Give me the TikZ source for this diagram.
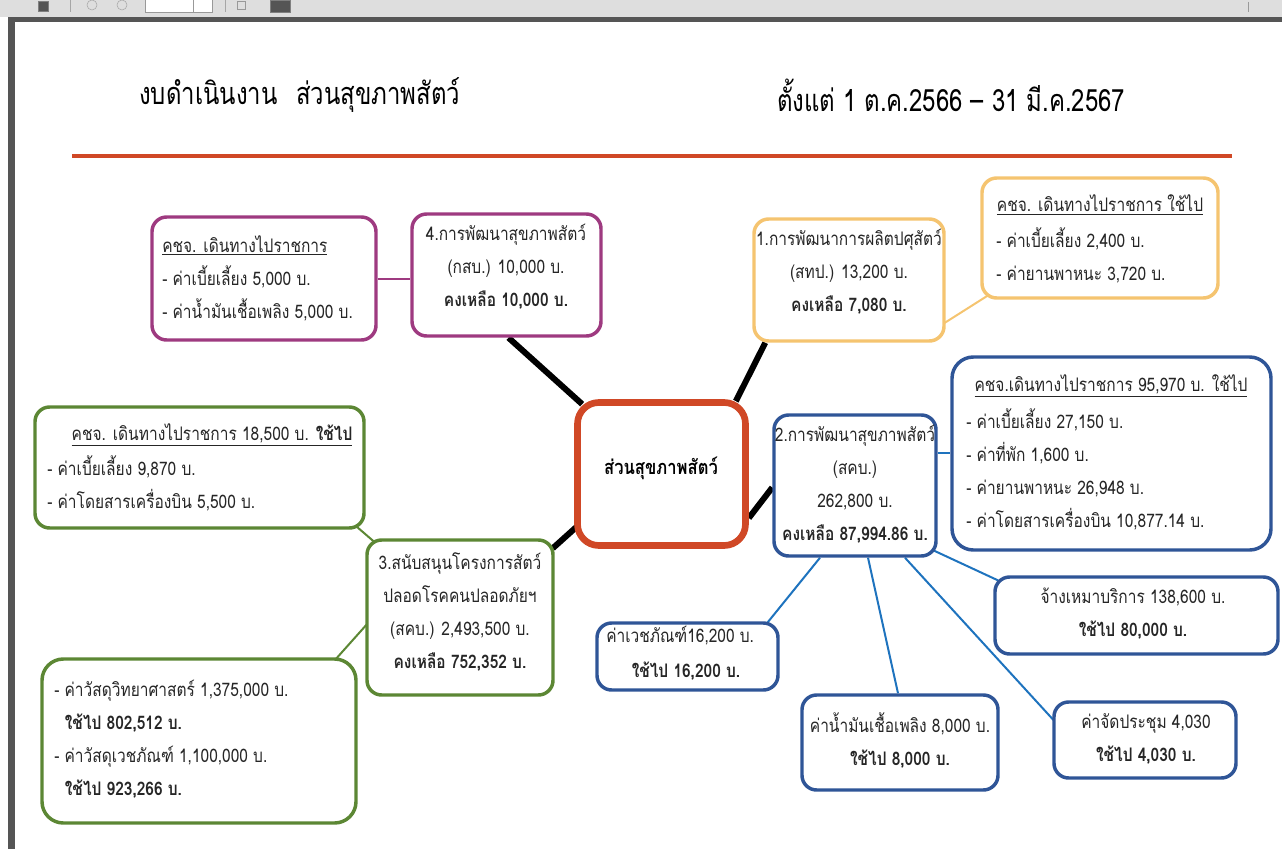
\documentclass[tikz,border=0pt]{standalone}
\usepackage{fontspec}
\newfontfamily\thai[Script=Thai,FakeStretch=0.83]{Loma}
\newfontfamily\thaiT[Script=Thai,FakeStretch=0.78]{Loma}
\usetikzlibrary{calc,backgrounds}
\definecolor{cPur}{RGB}{158,58,128}
\definecolor{cOra}{RGB}{245,196,112}
\definecolor{cRed}{RGB}{208,72,38}
\definecolor{cBlu}{RGB}{47,85,151}
\definecolor{cLbl}{RGB}{30,115,190}
\definecolor{cGrn}{RGB}{92,135,52}
\definecolor{cTxt}{RGB}{38,38,38}
\definecolor{cBar}{RGB}{222,222,222}
\definecolor{cDark}{RGB}{85,85,85}
\begin{document}
\begin{tikzpicture}[x=0.75pt,y=-0.75pt,
  box/.style={draw, line width=2.6pt, rounded corners=11pt, fill=white, inner sep=0pt},
  sz/.style 2 args={minimum width=#1*0.75pt, minimum height=#2*0.75pt},
  txt/.style={font=\thai\fontsize{14pt}{24.75pt}\selectfont, text=cTxt, inner sep=0pt},
  ttl/.style={font=\thaiT\fontsize{23pt}{26pt}\selectfont, text=black, inner sep=0pt},
  heavy/.style={line width=4.5pt, black},
  thin/.style={line width=1.5pt}]
\useasboundingbox (0,0) rectangle (1282,849);
% window chrome
\fill[cBar] (0,0) rectangle (1282,17);
\fill[cDark] (8,17) rectangle (1282,22);
\fill[cDark] (8,17) rectangle (15,849);
\draw[gray, fill=cDark] (38,1) rectangle (48,11);
\draw[gray!70] (70,0) -- (70,12) (225,0) -- (225,12);
\draw[gray!70] (92,5) circle (5);
\draw[gray!70] (122,5) circle (5);
\draw[gray!80, fill=white] (145,-1) rectangle (212,12);
\draw[gray!80] (193,-1) -- (193,12);
\draw[gray!80] (237,1) rectangle (245,9);
\draw[gray, fill=cDark] (270,0) rectangle (290,12);
\draw[gray!80] (1248,2) -- (1248,12);
% title
\node[ttl, anchor=west] (t1) at (139,95) {งบดำเนินงาน\hspace{14pt}ส่วนสุขภาพสัตว์};
\node[ttl, anchor=west] (t2) at (777,95) {ตั้งแต่ 1 ต.ค.2566 – 31 มี.ค.2567};
\draw[cRed, line width=2.4pt] (72,156) -- (1232,156);
% boxes
\node[box, draw=cPur, sz={224}{123}] (pL) at (264,278.5) {};
\node[box, draw=cPur, sz={189}{122}] (p4) at (506.5,275) {};
\node[box, draw=cOra, sz={190}{122}] (o1) at (849,280) {};
\node[box, draw=cOra, sz={236}{120}] (oR) at (1100,238) {};
\node[box, draw=cRed, line width=5pt, rounded corners=16pt, sz={168}{143}] (ctr) at (661.5,474) {};
\node[box, draw=cBlu, sz={162}{141}] (b2) at (855,485.5) {};
\node[box, draw=cBlu, rounded corners=16pt, sz={319}{193}] (bR) at (1111.5,453.5) {};
\node[box, draw=cBlu, sz={283}{77}] (bJ) at (1136.5,615.5) {};
\node[box, draw=cBlu, sz={181}{67}] (bV) at (687.5,656.5) {};
\node[box, draw=cBlu, sz={196}{95}] (bN) at (900,742.5) {};
\node[box, draw=cBlu, sz={182}{76}] (bM) at (1145,740) {};
\node[box, draw=cGrn, sz={329}{121}] (gL) at (199.5,467.5) {};
\node[box, draw=cGrn, sz={186}{155}] (g3) at (460,617.5) {};
\node[box, draw=cGrn, rounded corners=16pt, sz={314}{164}] (gB) at (199,741) {};
% connectors
\begin{scope}[on background layer]
\draw[heavy] ($(p4.south)+(2,0)$) -- ($(ctr.north west)+(8,5)$);
\draw[heavy] ($(o1.south west)+(13,0)$) -- ($(ctr.north east)+(-13,2)$);
\draw[heavy] ($(ctr.east)+(0,44)$) -- ($(b2.west)+(0,2)$);
\draw[heavy] ($(ctr.west)+(10,46)$) -- ($(g3.north east)+(-2,10)$);
\draw[thin, cPur] (pL.east) -- (pL.east -| p4.west);
\draw[thin, cOra] ($(o1.east)+(-6,46)$) -- ($(oR.south west)+(12,-7)$);
\draw[thin, cLbl] ($(b2.east)+(0,-33)$) -- ($(bR.west)+(0,-1)$);
\draw[thin, cLbl] ($(b2.south east)+(-10,-10)$) -- ($(bJ.west)+(5,-35)$);
\draw[thin, cLbl] ($(b2.south)+(-35,0)$) -- ($(bV.north east)+(-12,1)$);
\draw[thin, cLbl] ($(b2.south)+(13,0)$) -- ($(bN.north)+(-2,0)$);
\draw[thin, cLbl] ($(b2.south)+(50,0)$) -- ($(bM.west)+(3,-18)$);
\draw[thin, cGrn] ($(gL.south east)+(-9,-3)$) -- ($(g3.north west)+(13,7)$);
\draw[thin, cGrn] ($(g3.west)+(5,3)$) -- ($(gB.north east)+(-23,3)$);
\end{scope}
% texts
\node[txt, anchor=west, align=left] (tpL) at (162,278) {\underline{คชจ. เดินทางไปราชการ}\\- ค่าเบี้ยเลี้ยง 5,000 บ.\\- ค่าน้ำมันเชื้อเพลิง 5,000 บ.};
\node[txt, align=center] (tp4) at (506,267) {4.การพัฒนาสุขภาพสัตว์\\(กสบ.) 10,000 บ.\\\textbf{คงเหลือ 10,000 บ.}};
\node[txt, align=center] (to1) at (849,272) {1.การพัฒนาการผลิตปศุสัตว์\\(สทป.) 13,200 บ.\\\textbf{คงเหลือ 7,080 บ.}};
\node[txt] (toRh) at (1100,205) {\underline{คชจ. เดินทางไปราชการ ใช้ไป}};
\node[txt, anchor=west, align=left] (toR) at (996,255) {- ค่าเบี้ยเลี้ยง 2,400 บ.\\- ค่ายานพาหนะ 3,720 บ.};
\node[txt, font=\thai\bfseries\fontsize{15pt}{16pt}\selectfont, text=black] (tctr) at (661,468) {ส่วนสุขภาพสัตว์};
\node[txt, align=center] (tb2) at (855,484) {2.การพัฒนาสุขภาพสัตว์\\(สคบ.)\\262,800 บ.\\\textbf{คงเหลือ 87,994.86 บ.}};
\node[txt] (tbRh) at (1111,386) {\underline{คชจ.เดินทางไปราชการ 95,970 บ. ใช้ไป}};
\node[txt, anchor=west, align=left] (tbR) at (966,469.5) {- ค่าเบี้ยเลี้ยง 27,150 บ.\\- ค่าที่พัก 1,600 บ.\\- ค่ายานพาหนะ 26,948 บ.\\- ค่าโดยสารเครื่องบิน 10,877.14 บ.};
\node[txt, align=center] (tbJ) at (1133,614) {จ้างเหมาบริการ 138,600 บ.\\\textbf{ใช้ไป 80,000 บ.}};
\node[txt, anchor=west] (tbV1) at (606,636) {ค่าเวชภัณฑ์16,200 บ.};
\node[txt] (tbV2) at (686,671) {\textbf{ใช้ไป 16,200 บ.}};
\node[txt, align=center] (tbN) at (900,740) {ค่าน้ำมันเชื้อเพลิง 8,000 บ.\\\textbf{ใช้ไป 8,000 บ.}};
\node[txt, align=center] (tbM) at (1146,739) {ค่าจัดประชุม 4,030\\\textbf{ใช้ไป 4,030 บ.}};
\node[txt] (tgLh) at (212,435) {\underline{คชจ. เดินทางไปราชการ 18,500 บ. \textbf{ใช้ไป}}};
\node[txt, anchor=west, align=left] (tgL) at (47,483) {- ค่าเบี้ยเลี้ยง 9,870 บ.\\- ค่าโดยสารเครื่องบิน 5,500 บ.};
\node[txt, align=center] (tg3) at (460,612) {3.สนับสนุนโครงการสัตว์\\ปลอดโรคคนปลอดภัยฯ\\(สคบ.) 2,493,500 บ.\\\textbf{คงเหลือ 752,352 บ.}};
\node[txt, anchor=west, align=left] (tgB) at (54,739) {- ค่าวัสดุวิทยาศาสตร์ 1,375,000 บ.\\\hspace*{8pt}\textbf{ใช้ไป 802,512 บ.}\\- ค่าวัสดุเวชภัณฑ์ 1,100,000 บ.\\\hspace*{8pt}\textbf{ใช้ไป 923,266 บ.}};
\end{tikzpicture}
\end{document}
